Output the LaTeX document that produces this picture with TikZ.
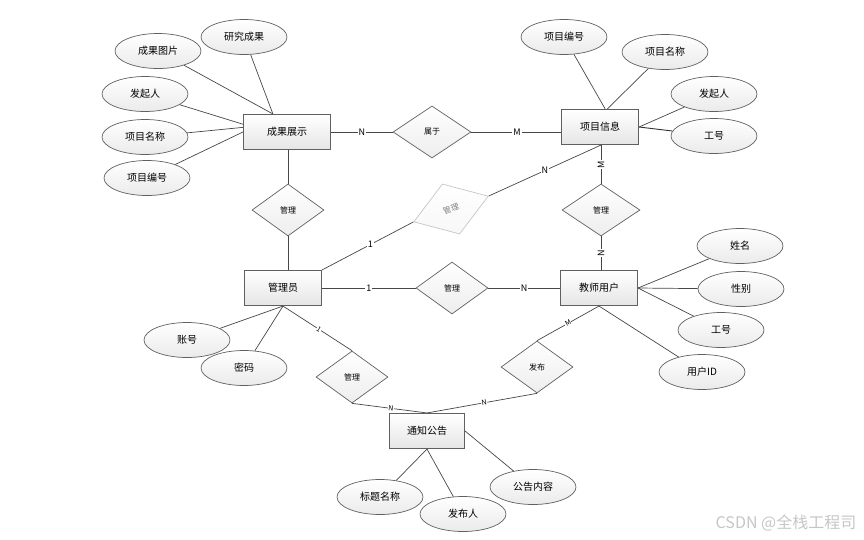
\documentclass[tikz,border=0pt]{standalone}
\usepackage{fontspec}
\setmainfont{Noto Sans CJK SC}
\usetikzlibrary{shapes.geometric}

\tikzset{
  entity/.style={draw=gray!75!black, line width=1.1pt, top color=white, bottom color=gray!20,
    minimum width=77pt, minimum height=35pt, inner sep=0pt, font=\fontsize{10}{12}\selectfont},
  attr/.style={ellipse, draw=gray!75!black, line width=0.7pt, top color=white, bottom color=gray!16,
    minimum width=86pt, minimum height=35pt, inner sep=0pt, font=\fontsize{10}{12}\selectfont},
  rel/.style={diamond, draw=gray!75!black, line width=0.7pt, top color=white, bottom color=gray!14,
    minimum width=72pt, minimum height=52pt, inner sep=0pt, font=\fontsize{8}{9}\selectfont},
  conn/.style={draw=gray!55!black, line width=0.7pt},
  card/.style={fill=white, inner sep=1pt, font=\fontsize{9}{10}\selectfont},
  cardsm/.style={card, inner sep=0.5pt, font=\fontsize{7}{8}\selectfont, sloped}
}

\begin{document}
\begin{tikzpicture}[x=1pt, y=-1pt]
  \useasboundingbox (0,0) rectangle (864,539);

  % Drawing entities
  \node [entity, minimum width=87pt] (show) at (287,132) {成果展示};
  \node [entity] (info) at (600,127) {项目信息};
  \node [entity] (admin) at (283,288) {管理员};
  \node [entity] (teacher) at (599,288) {教师用户};
  \node [entity, minimum width=75pt] (notice) at (427,431) {通知公告};

  % Drawing relations
  \node [rel, minimum width=78pt] (belong) at (432,132) {属于};
  \node [rel] (mshow) at (288,210) {管理};
  \node [rel, minimum width=78pt] (minfo) at (601,210) {管理};
  \node [rel] (mteach) at (452,288) {管理};
  \node [rel] (mnotice) at (352,377) {管理};
  \node [rel] (publish) at (537,367) {发布};
  \node [rel, rotate=19, minimum width=79pt, minimum height=53pt, draw=gray!45,
         bottom color=gray!6, text=gray] (mgray) at (451,209) {管理};

  % Drawing attributes of show
  \node [attr] (sresult) at (244,37) {研究成果};
  \node [attr] (spic) at (158,51) {成果图片};
  \node [attr] (sstart) at (145,94) {发起人};
  \node [attr] (sname) at (145,137) {项目名称};
  \node [attr] (sno) at (147,178) {项目编号};

  % Drawing attributes of info
  \node [attr] (ino) at (564,37) {项目编号};
  \node [attr] (iname) at (665,52) {项目名称};
  \node [attr] (istart) at (714,94) {发起人};
  \node [attr] (iwork) at (714,136) {工号};

  % Drawing attributes of teacher
  \node [attr] (tname) at (740,246) {姓名};
  \node [attr] (tsex) at (741,289) {性别};
  \node [attr] (twork) at (721,330) {工号};
  \node [attr] (tid) at (702,372) {用户ID};

  % Drawing attributes of admin
  \node [attr] (aacc) at (187,340) {账号};
  \node [attr] (apwd) at (244,368) {密码};

  % Drawing attributes of notice
  \node [attr] (ntitle) at (380,497) {标题名称};
  \node [attr] (nman) at (463,514) {发布人};
  \node [attr] (ntext) at (533,487) {公告内容};

  % Drawing attribute lines
  \draw [conn] (sresult) -- (show.128);
  \draw [conn] (spic) -- (show.128);
  \draw [conn] (sstart) -- (show.170);
  \draw [conn] (sname) -- (show.174);
  \draw [conn] (sno) -- (show.west);
  \draw [conn] (ino) -- (info.74);
  \draw [conn] (iname) -- (info.68);
  \draw [conn] (istart) -- (info.east);
  \draw [conn, draw=black!80, line width=0.9pt] (iwork) -- (info.east);
  \draw [conn] (tname) -- (teacher.east);
  \draw [conn] (tsex) -- (teacher.east);
  \draw [conn] (twork) -- (teacher.east);
  \draw [conn] (tid) -- (teacher.south);
  \draw [conn] (aacc) -- (admin.south);
  \draw [conn] (apwd) -- (admin.south);
  \draw [conn] (ntitle) -- (notice.south);
  \draw [conn] (nman) -- (notice.south);
  \draw [conn] (ntext) -- (notice.east);

  % Drawing relation lines
  \draw [conn] (show.east) -- node [card] {N} (belong.west);
  \draw [conn] (belong.east) -- node [card, pos=0.51] {M} (belong.east -| info.west);
  \draw [conn] (show.south -| mshow.north) -- (mshow.north);
  \draw [conn] (mshow.south) -- (mshow.south |- admin.north);
  \draw [conn] (admin.north east) -- node [card, pos=0.53] {1} (mgray.west);
  \draw [conn] (mgray.east) -- node [card] {N} (minfo.north |- info.south);
  \draw [conn] (minfo.north |- info.south) -- node [card, rotate=90] {M} (minfo.north);
  \draw [conn] (minfo.south) -- node [card, rotate=90] {N} (minfo.south |- teacher.north);
  \draw [conn] (admin.east) -- node [card] {1} (mteach.west);
  \draw [conn] (mteach.east) -- node [card] {N} (teacher.west);
  \draw [conn] (admin.south) -- node [cardsm, pos=0.52] {1} (mnotice.north);
  \draw [conn] (mnotice.south) -- node [cardsm, pos=0.52] {N} (notice.north);
  \draw [conn] (teacher.south) -- node [cardsm] {M} (publish.north);
  \draw [conn] (publish.south) -- node [cardsm, pos=0.48] {N} (notice.north);

  % Marking watermark
  \node [text=gray!45, font=\fontsize{16}{18}\selectfont] (mark) at (786,523) {CSDN @全栈工程司};
\end{tikzpicture}
\end{document}
